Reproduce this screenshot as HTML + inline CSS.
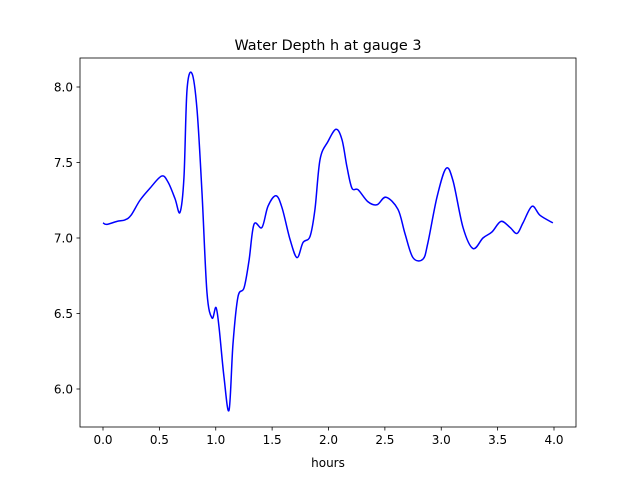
<!DOCTYPE html>
<html><head><meta charset="utf-8"><style>
body{margin:0;background:#fff;font-family:"DejaVu Sans","Liberation Sans",sans-serif}
</style></head><body>
<svg id="c" width="640" height="480" xmlns="http://www.w3.org/2000/svg"></svg>
<script>
const hours=[0.0,0.035,0.124,0.195,0.248,0.328,0.417,0.52,0.577,0.639,0.683,0.718,0.745,0.789,0.834,0.878,0.922,0.967,1.002,1.029,1.073,1.118,1.153,1.197,1.251,1.295,1.339,1.41,1.463,1.534,1.588,1.659,1.721,1.774,1.836,1.88,1.925,1.996,2.067,2.12,2.164,2.208,2.262,2.35,2.43,2.51,2.616,2.678,2.749,2.838,2.882,2.962,3.042,3.104,3.193,3.282,3.37,3.45,3.53,3.61,3.672,3.725,3.805,3.876,3.99];
const depth=[7.10,7.09,7.11,7.12,7.15,7.25,7.33,7.41,7.37,7.26,7.17,7.40,7.98,8.09,7.85,7.30,6.64,6.47,6.54,6.41,6.08,5.86,6.30,6.61,6.67,6.85,7.09,7.07,7.21,7.28,7.20,6.99,6.87,6.97,7.01,7.19,7.52,7.64,7.72,7.65,7.47,7.33,7.32,7.24,7.22,7.27,7.19,7.03,6.87,6.86,6.97,7.27,7.46,7.38,7.07,6.93,7.00,7.04,7.11,7.07,7.03,7.10,7.21,7.15,7.10];
const xTicks=[0,0.5,1,1.5,2,2.5,3,3.5,4];
const yTicks=[6,6.5,7,7.5,8];
const L=80,R=576,T=58,B=427;
const X=v=>103+v*112.75;
const Y=v=>87+(8-v)*151;
const svg=document.getElementById('c');
const NS='http://www.w3.org/2000/svg';
function mk(t,a,txt){const e=document.createElementNS(NS,t);for(const k in a)e.setAttribute(k,a[k]);if(txt!==undefined)e.textContent=txt;svg.appendChild(e);return e;}
let t=mk('text',{x:328,y:50,'text-anchor':'middle','font-size':14.4},'Water Depth h at gauge 3');


// line
const px=hours.map(X),py=depth.map(Y);
let d='M'+px[0]+','+py[0];
for(let i=0;i<px.length-1;i++){
 const p0=i?i-1:i,p3=i+2<px.length?i+2:i+1;
 const c1x=px[i]+(px[i+1]-px[p0])/6,c1y=py[i]+(py[i+1]-py[p0])/6;
 const c2x=px[i+1]-(px[p3]-px[i])/6,c2y=py[i+1]-(py[p3]-py[i])/6;
 d+=` C${c1x},${c1y} ${c2x},${c2y} ${px[i+1]},${py[i+1]}`;
}
let ln=mk('path',{d:d,fill:'none',stroke:'#0000ff','stroke-width':1.5});


let fr=mk('rect',{x:L,y:T,width:R-L,height:B-T,fill:'none',stroke:'#000','stroke-width':0.8});


xTicks.forEach(v=>{
 const x=X(v);
 let tk=mk('line',{x1:x,y1:B,x2:x,y2:B+3.5,stroke:'#000','stroke-width':0.8});
 
 
 let lb=mk('text',{x:x,y:B+17,'text-anchor':'middle','font-size':12},v.toFixed(1));
 
 
});
yTicks.forEach(v=>{
 const y=Y(v);
 let tk=mk('line',{x1:L-3.5,y1:y,x2:L,y2:y,stroke:'#000','stroke-width':0.8});
 
 
 let lb=mk('text',{x:L-7,y:y+4.5,'text-anchor':'end','font-size':12},v.toFixed(1));
 
 
});
let xt=mk('text',{x:328,y:467,'text-anchor':'middle','font-size':12},'hours');


</script>
</body></html>
